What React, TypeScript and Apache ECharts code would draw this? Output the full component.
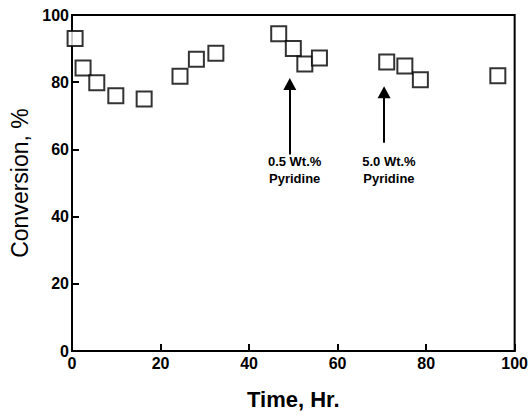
import React, { useEffect, useRef } from "react";
import * as echarts from "echarts";

const timeHr = [0.7, 2.5, 5.6, 9.9, 16.3, 24.4, 28.1, 32.5, 46.7, 50.0, 52.6, 55.9, 71.1, 75.2, 78.7, 96.2];
const conversion = [93, 84.2, 79.8, 76, 75, 81.8, 86.8, 88.6, 94.4, 90, 85.4, 87.2, 86, 84.8, 80.7, 81.9];

const arrowX = [49.2, 70.5];
const arrowTail = [58.5, 62];
const arrowTip = [79.5, 77];
const noteLabels = ["0.5 Wt.%\nPyridine", "5.0 Wt.%\nPyridine"];
const noteX = [50.3, 71.6];
const noteY = [54, 54];

export default function App() {
  const ref = useRef<HTMLDivElement>(null);
  useEffect(() => {
    if (!ref.current) return;
    const chart = echarts.init(ref.current, undefined, { renderer: "svg" });
    const font = "'Liberation Sans', Arial, sans-serif";
    chart.setOption({
      animation: false,
      backgroundColor: "#fff",
      grid: { left: 72, right: 11, top: 15, bottom: 58, show: true, borderColor: "#000", borderWidth: 2 },
      xAxis: {
        type: "value",
        min: 0,
        max: 100,
        interval: 20,
        name: "Time, Hr.",
        nameLocation: "middle",
        nameGap: 37,
        nameTextStyle: { fontFamily: font, fontWeight: "bold", fontSize: 22, color: "#000" },
        axisLine: { lineStyle: { color: "#000", width: 2 } },
        axisTick: { inside: true, length: 7, lineStyle: { color: "#000", width: 2 } },
        axisLabel: { fontFamily: font, fontWeight: "bold", fontSize: 16, color: "#000", margin: 4 },
        splitLine: { show: false },
      },
      yAxis: {
        type: "value",
        min: 0,
        max: 100,
        interval: 20,
        name: "Conversion, %",
        nameLocation: "middle",
        nameGap: 39,
        nameTextStyle: { fontFamily: font, fontSize: 23, color: "#000" },
        axisLine: { lineStyle: { color: "#000", width: 2 } },
        axisTick: { inside: true, length: 7, lineStyle: { color: "#000", width: 2 } },
        axisLabel: { fontFamily: font, fontWeight: "bold", fontSize: 16, color: "#000", margin: 3 },
        splitLine: { show: false },
      },
      series: [
        {
          type: "scatter",
          data: timeHr.map((t, i) => [t, conversion[i]]),
          symbol: "rect",
          symbolSize: 15,
          itemStyle: { color: "#fff", borderColor: "#000", borderWidth: 2 },
          markLine: {
            silent: true,
            symbol: ["none", "triangle"],
            symbolSize: [13, 12],
            label: { show: false },
            lineStyle: { color: "#000", width: 2, type: "solid" },
            data: arrowX.map((x, i) => [
              { coord: [x, arrowTail[i]] },
              { coord: [x, arrowTip[i]] },
            ]),
          },
          markPoint: {
            silent: true,
            symbol: "rect",
            symbolSize: 1,
            itemStyle: { color: "transparent" },
            label: {
              show: true,
              position: "inside",
              fontFamily: font,
              fontWeight: "bold",
              fontSize: 13,
              lineHeight: 17,
              color: "#000",
              align: "center",
            },
            data: noteLabels.map((s, i) => ({
              coord: [noteX[i], noteY[i]],
              value: s,
              label: { formatter: s },
            })),
          },
        },
      ],
    });
    return () => chart.dispose();
  }, []);
  return <div ref={ref} style={{ position: "absolute", left: 0, top: 0, width: 531, height: 415 }} />;
}
